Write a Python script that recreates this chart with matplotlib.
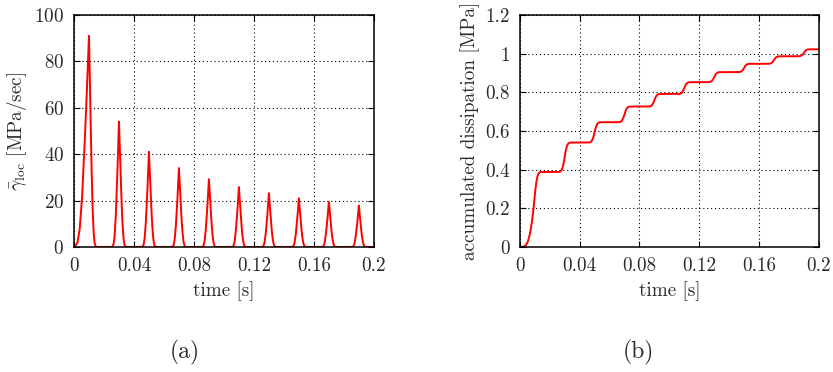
import numpy as np
import matplotlib
matplotlib.use("Agg")
import matplotlib.pyplot as plt

plt.rcParams['font.family'] = 'serif'
plt.rcParams['font.serif'] = ['cmr10', 'DejaVu Serif']
plt.rcParams['mathtext.fontset'] = 'cm'
plt.rcParams['axes.formatter.use_mathtext'] = True

# ---- data ----
peak_times = [0.01, 0.03, 0.05, 0.07, 0.09, 0.11, 0.13, 0.15, 0.17, 0.19]
peak_heights = [91, 54, 41, 34, 29.2, 25.8, 23.2, 21, 19.4, 17.8]
half_width_left = [0.0096, 0.0045, 0.0045, 0.0045, 0.0045, 0.0045, 0.0045, 0.0045, 0.0045, 0.0045]
half_width_right = [0.0046, 0.0045, 0.0045, 0.0045, 0.0045, 0.0045, 0.0045, 0.0045, 0.0045, 0.0045]
# normalized pulse profile (offset / half-width -> value / peak)
profile_offset = [0.0, 0.07, 0.19, 0.33, 0.49, 0.65, 0.80, 1.0]
profile_value = [1.0, 0.88, 0.66, 0.44, 0.22, 0.08, 0.02, 0.0]
# plateau levels of accumulated dissipation after each pulse [MPa]
plateau_levels = [0.388, 0.54, 0.645, 0.726, 0.791, 0.852, 0.904, 0.947, 0.986, 1.022]

x_ticks = [0, 0.04, 0.08, 0.12, 0.16, 0.2]
x_labels = ['0', '0.04', '0.08', '0.12', '0.16', '0.2']
yl_ticks = [0, 20, 40, 60, 80, 100]
yr_ticks = [0, 0.2, 0.4, 0.6, 0.8, 1.0, 1.2]
yr_labels = ['0', '0.2', '0.4', '0.6', '0.8', '1', '1.2']

# ---- build curves ----
t = np.linspace(0, 0.2, 8001)
rate = np.zeros_like(t)
acc = np.zeros_like(t)
prev = 0.0
for tp, h, hl, hr, lev in zip(peak_times, peak_heights, half_width_left,
                              half_width_right, plateau_levels):
    d = t - tp
    u = np.where(d < 0, -d / hl, d / hr)
    p = np.interp(u, profile_offset, profile_value, right=0.0)
    rate += h * p
    c = np.cumsum(p)
    c = c / c[-1]
    acc += (lev - prev) * c
    prev = lev

fig = plt.figure(figsize=(8.33, 3.72), dpi=100)
fs = 13.8
tc = '#2a2a2a'

def style(ax):
    ax.grid(True, color='black', linestyle=(0, (1, 2.5)), linewidth=0.8)
    ax.tick_params(direction='in', top=True, right=True, length=4.5,
                   width=0.8, labelsize=fs, pad=7, labelcolor=tc)
    for s in ax.spines.values():
        s.set_linewidth(1.1)
    ax.set_xlim(0, 0.2)
    ax.set_xticks(x_ticks)
    ax.set_xticklabels(x_labels)
    ax.set_xlabel('time [s]', fontsize=fs, labelpad=5, color=tc)

ax1 = fig.add_axes([0.0888, 0.336, 0.360, 0.624])
ax1.plot(t, rate, color='red', linewidth=1.4)
style(ax1)
ax1.set_ylim(0, 100)
ax1.set_yticks(yl_ticks)
ax1.set_ylabel(r'$\bar{\gamma}_{\rm loc}$ [MPa/sec]', fontsize=fs, labelpad=4, color=tc)

ax2 = fig.add_axes([0.624, 0.336, 0.359, 0.624])
ax2.plot(t, acc, color='red', linewidth=1.4)
style(ax2)
ax2.set_ylim(0, 1.2)
ax2.set_yticks(yr_ticks)
ax2.set_yticklabels(yr_labels)
ax2.set_ylabel('accumulated dissipation [MPa]', fontsize=fs, labelpad=4, color=tc)

fig.text(185 / 833, 1 - 352 / 372, '(a)', fontsize=17, ha='center', va='center', color=tc)
fig.text(638 / 833, 1 - 352 / 372, '(b)', fontsize=17, ha='center', va='center', color=tc)

fig.savefig('out.png', dpi=100)
